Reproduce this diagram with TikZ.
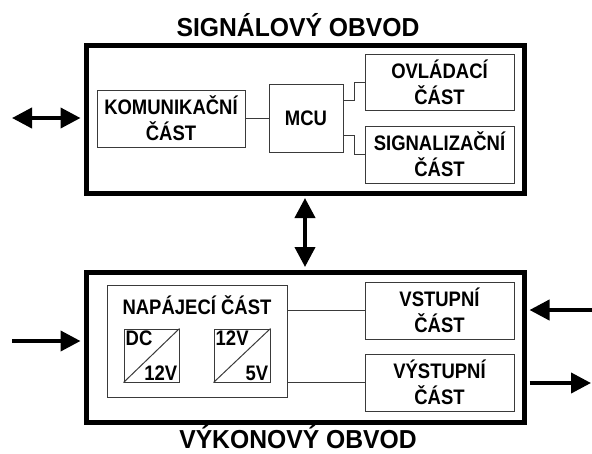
\documentclass[tikz,border=0pt]{standalone}
\usepackage{fontspec}
\setmainfont{Liberation Sans}[FakeStretch=0.88]
\newfontfamily\titlefont{Liberation Sans}[FakeStretch=0.95]
\usetikzlibrary{arrows.meta}
\definecolor{BoxGray}{HTML}{3A3A3A}

\begin{document}
\begin{tikzpicture}[x=1pt,y=-1pt,font=\bfseries\fontsize{21pt}{26pt}\selectfont,
        outer/.style={draw,line width=5pt,inner sep=0pt},
        part/.style={draw=BoxGray,line width=1pt,align=center,inner sep=0pt},
        ttl/.style={inner sep=0pt,font=\titlefont\bfseries\fontsize{26pt}{28pt}\selectfont},
        ln/.style={line width=1pt,color=BoxGray},
        big/.style={line width=4pt,{Triangle[length=20pt,width=20pt]}-{Triangle[length=20pt,width=20pt]}},
        tip/.style={line width=4pt,-{Triangle[length=20pt,width=20pt]}}]
        \useasboundingbox (0,0) rectangle (592,453);
        % signal circuit
        \node[outer,minimum width=438pt,minimum height=148pt] (sig) at (305,119) {};
        \node[ttl] (sigt) at (298,25) {SIGNÁLOVÝ OBVOD};
        \node[part,minimum width=148pt,minimum height=57pt] (kom) at (171,118.5) {KOMUNIKAČNÍ\\ČÁST};
        \node[part,minimum width=74pt,minimum height=68pt] (mcu) at (306,118) {MCU};
        \node[part,minimum width=149pt,minimum height=56pt] (ovl) at (439.5,82) {OVLÁDACÍ\\ČÁST};
        \node[part,minimum width=149pt,minimum height=57pt] (sgn) at (439.5,154.5) {SIGNALIZAČNÍ\\ČÁST};
        \draw[ln] (kom.east) -- (kom.east -| mcu.west);
        \draw[ln] ([yshift=18pt]mcu.east) -- ++(11,0) |- (ovl.west);
        \draw[ln] ([yshift=-17pt]mcu.east) -- ++(11,0) |- (sgn.west);
        % power circuit
        \node[outer,minimum width=438pt,minimum height=150pt] (pow) at (305,347) {};
        \node[ttl] (powt) at (298,437) {VÝKONOVÝ OBVOD};
        \node[part,minimum width=180pt,minimum height=112pt] (nap) at (197,341) {};
        \node (napt) at (197,305) {NAPÁJECÍ ČÁST};
        \node[part,minimum width=55pt,minimum height=53pt] (dc) at (151.5,355.5) {};
        \node[part,minimum width=56pt,minimum height=53pt] (reg) at (242,355.5) {};
        \draw[ln] (dc.south west) -- (dc.north east);
        \draw[ln] (reg.south west) -- (reg.north east);
        \node[anchor=north west,inner sep=2pt] (dcin) at (dc.north west) {DC};
        \node[anchor=south east,inner sep=2pt] (dcout) at (dc.south east) {12V};
        \node[anchor=north west,inner sep=2pt] (regin) at (reg.north west) {12V};
        \node[anchor=south east,inner sep=2pt] (regout) at (reg.south east) {5V};
        \node[part,minimum width=149pt,minimum height=57pt] (vst) at (439.5,310.5) {VSTUPNÍ\\ČÁST};
        \node[part,minimum width=149pt,minimum height=57pt] (vys) at (439.5,382.5) {VÝSTUPNÍ\\ČÁST};
        \draw[ln] (nap.east |- vst.west) -- (vst.west);
        \draw[ln] (nap.east |- vys.west) -- (vys.west);
        % links
        \coordinate (comm) at (12,118); \coordinate (supply) at (12,341);
        \coordinate (inp) at (592,310); \coordinate (outp) at (591,383);
        \draw[big,shorten >=3pt] (comm) -- (comm -| sig.west);
        \draw[big,shorten <=2.5pt,shorten >=2.5pt] (sig.south) -- (pow.north);
        \draw[tip,shorten >=3pt] (supply) -- (supply -| pow.west);
        \draw[tip,shorten >=3pt] (inp) -- (inp -| pow.east);
        \draw[tip,shorten <=3pt] (outp -| pow.east) -- (outp);
      \end{tikzpicture}
\end{document}
